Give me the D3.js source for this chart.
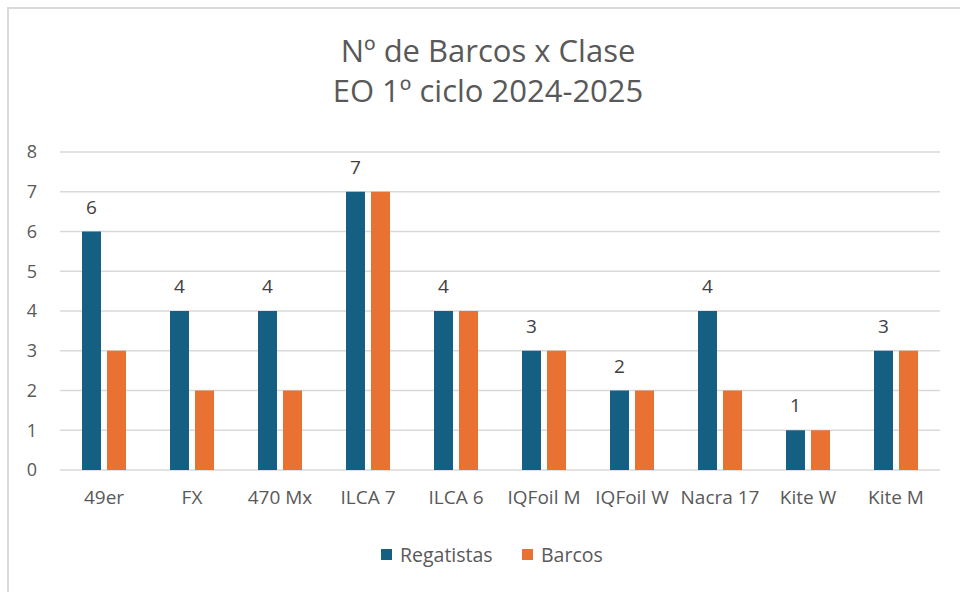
<!DOCTYPE html>
<html>
<head>
<meta charset="utf-8">
<script src="https://cdn.jsdelivr.net/npm/d3@7"></script>
<style>
  body { margin: 0; background: #fff; }
  svg { display: block; }
  text { font-family: 'Open Sans', 'Noto Sans', sans-serif; fill: #595959; }
</style>
</head>
<body>
<svg id="canvas"></svg>
<script>
// Chart data.
var categories = ['49er', 'FX', '470 Mx', 'ILCA 7', 'ILCA 6', 'IQFoil M', 'IQFoil W', 'Nacra 17', 'Kite W', 'Kite M'];
var regatistas = [6, 4, 4, 7, 4, 3, 2, 4, 1, 3];
var barcos = [3, 2, 2, 7, 4, 3, 2, 2, 1, 3];
var seriesNames = ['Regatistas', 'Barcos'];
var yTicks = [0, 1, 2, 3, 4, 5, 6, 7, 8];
var titleLines = ['Nº de Barcos x Clase', 'EO 1º ciclo 2024-2025'];

// Canvas dimensions.
var canvasWidth = 960;
var canvasHeight = 592;
var colors = ['#156082', '#E97132'];

// Plot area.
var plotLeft = 60, plotRight = 940, plotTop = 152, plotBottom = 470;

var svg = d3.select('#canvas')
            .attr('width', canvasWidth)
            .attr('height', canvasHeight);

// Chart border (only top and left visible).
svg.append('path')
   .attr('d', 'M8,' + canvasHeight + 'V8H' + canvasWidth)
   .attr('fill', 'none')
   .attr('stroke', '#D9D9D9')
   .attr('stroke-width', 2);

// Scales.
var xScale = d3.scaleBand()
               .domain(categories)
               .range([plotLeft, plotRight]);

var innerScale = d3.scaleBand()
                   .domain(seriesNames)
                   .range([0, xScale.bandwidth() / 2])
                   .paddingInner(0.24);

var yScale = d3.scaleLinear()
               .domain([0, 8])
               .range([plotBottom, plotTop]);

// Gridlines.
svg.append('g')
   .selectAll('line')
   .data(yTicks)
   .enter()
   .append('line')
   .attr('x1', plotLeft)
   .attr('x2', plotRight)
   .attr('y1', function(d) { return yScale(d); })
   .attr('y2', function(d) { return yScale(d); })
   .attr('stroke', '#D9D9D9')
   .attr('stroke-width', 1.5);

// Vertical axis labels.
var yAxis = d3.axisLeft(yScale).tickValues(yTicks).tickSize(0).tickPadding(23);
var yG = svg.append('g')
            .attr('transform', 'translate(' + plotLeft + ',0)')
            .call(yAxis);
yG.select('.domain').remove();
yG.selectAll('text').style('font-size', '18px').attr('fill', '#595959');

// Horizontal axis labels.
var xAxis = d3.axisBottom(xScale).tickSize(0).tickPadding(21);
var xG = svg.append('g')
            .attr('transform', 'translate(0,' + plotBottom + ')')
            .call(xAxis);
xG.select('.domain').remove();
xG.selectAll('text').style('font-size', '19px').attr('fill', '#595959');

// Bars.
var series = [regatistas, barcos];
var offset = xScale.bandwidth() / 4;
series.forEach(function(values, s) {
  svg.append('g')
     .selectAll('rect')
     .data(values)
     .enter()
     .append('rect')
     .attr('x', function(d, i) { return xScale(categories[i]) + offset + innerScale(seriesNames[s]); })
     .attr('y', function(d) { return yScale(d); })
     .attr('width', innerScale.bandwidth())
     .attr('height', function(d) { return plotBottom - yScale(d); })
     .attr('fill', colors[s]);
});

// Data labels over the first series.
svg.append('g')
   .selectAll('text')
   .data(regatistas)
   .enter()
   .append('text')
   .attr('x', function(d, i) { return xScale(categories[i]) + offset + innerScale(seriesNames[0]) + innerScale.bandwidth() / 2; })
   .attr('y', function(d) { return yScale(d) - 18; })
   .attr('text-anchor', 'middle')
   .style('font-size', '19px')
   .style('fill', '#404040')
   .text(function(d) { return d; });

// Title.
svg.append('g')
   .selectAll('text')
   .data(titleLines)
   .enter()
   .append('text')
   .attr('x', 488)
   .attr('y', function(d, i) { return 62 + i * 40; })
   .attr('text-anchor', 'middle')
   .style('font-size', '31px')
   .text(function(d) { return d; });

// Legend.
var legendX = [381, 522];
var legend = svg.append('g')
                .selectAll('g')
                .data(seriesNames)
                .enter()
                .append('g')
                .attr('transform', function(d, i) { return 'translate(' + legendX[i] + ',549)'; });
legend.append('rect')
      .attr('width', 11)
      .attr('height', 11)
      .attr('fill', function(d, i) { return colors[i]; });
legend.append('text')
      .attr('x', 19)
      .attr('y', 13)
      .style('font-size', '19.5px')
      .text(function(d) { return d; });
</script>
</body>
</html>
